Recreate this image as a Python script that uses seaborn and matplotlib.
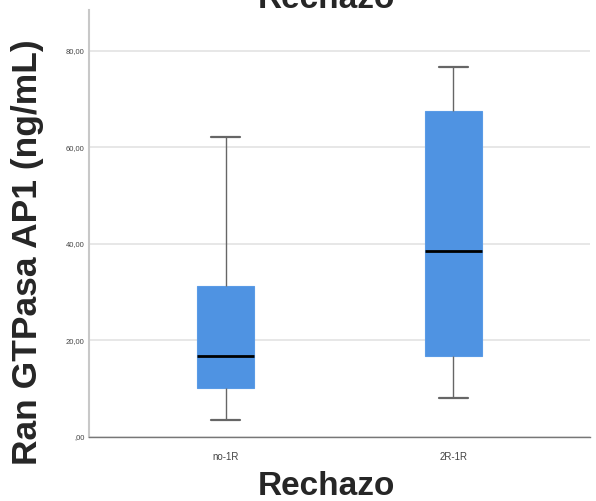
import matplotlib
matplotlib.use("Agg")
import matplotlib.pyplot as plt
import pandas as pd
import seaborn as sns

# five-number summaries (min, Q1, median, Q3, max)
groups = ["no-1R", "2R-1R"]
no_1r = [3.5, 10.2, 16.7, 31.2, 62.2]
r2_1r = [8.1, 16.7, 38.5, 67.5, 76.7]
yticks = [0, 20, 40, 60, 80]
ytick_labels = [",00", "20,00", "40,00", "60,00", "80,00"]

df = pd.DataFrame({
    "Rechazo": [groups[0]] * len(no_1r) + [groups[1]] * len(r2_1r),
    "valor": no_1r + r2_1r,
})

sns.set_style("white")
plt.rcParams["font.family"] = ["Liberation Sans", "DejaVu Sans"]

fig = plt.figure(figsize=(5.96, 5.01), dpi=100)
ax = fig.add_axes([0.149, 0.128, 0.841, 0.852])

box_color = "#4f93e2"
sns.boxplot(
    data=df, x="Rechazo", y="valor", order=groups,
    color=box_color, width=0.25, whis=1.5, showfliers=False,
    boxprops={"facecolor": box_color, "edgecolor": "#5a9be6", "linewidth": 0.8},
    medianprops={"color": "black", "linewidth": 2},
    whiskerprops={"color": "#666666", "linewidth": 1},
    capprops={"color": "#666666", "linewidth": 1.6},
    ax=ax,
)

ax.set_xlim(-0.6, 1.6)
ax.set_ylim(0, 88.5)
ax.set_yticks(yticks)
ax.set_yticklabels(ytick_labels)
ax.yaxis.grid(True, color="#e3e3e3", linewidth=1.2)
ax.set_axisbelow(True)
ax.tick_params(axis="y", length=0, labelsize=5.5, labelcolor="#444444", pad=3)
ax.tick_params(axis="x", length=0, labelsize=7, labelcolor="#444444", pad=11)
for lbl in ax.get_xticklabels():
    lbl.set_family(["Liberation Sans Narrow", "Liberation Sans"])
    lbl.set_stretch("condensed")

for side in ["top", "right"]:
    ax.spines[side].set_visible(False)
ax.spines["left"].set_color("#c8c8c8")
ax.spines["left"].set_linewidth(1.5)
ax.spines["bottom"].set_color("#777777")
ax.spines["bottom"].set_linewidth(1)

ax.set_xlabel("Rechazo", fontsize=24, fontweight="bold")
ax.xaxis.set_label_coords(0.475, -0.117)
ax.xaxis.label.set_va("center")
ax.set_ylabel("Ran GTPasa AP1 (ng/mL)", fontsize=25.5, fontweight="bold")
ax.yaxis.set_label_coords(-0.122, 0.433)
ax.yaxis.label.set_va("center")
fig.text(0.548, 0.984, "Rechazo", ha="center", va="baseline", fontsize=24, fontweight="bold")

fig.savefig("out.png", dpi=100)
